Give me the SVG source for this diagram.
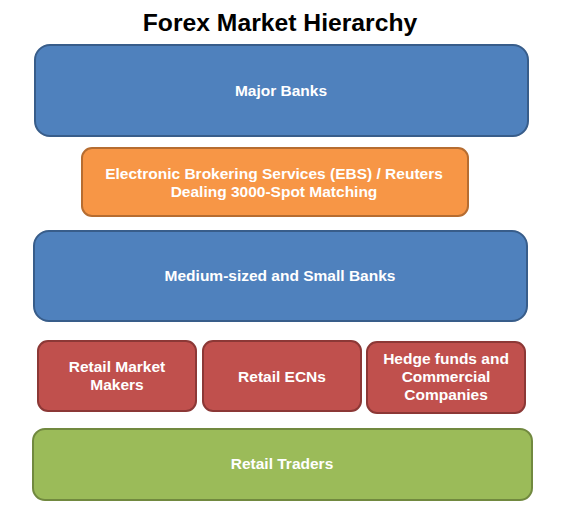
<svg xmlns="http://www.w3.org/2000/svg" width="568" height="514" viewBox="0 0 568 514">
<style>
.t{font-family:"Liberation Sans",Arial,sans-serif;font-weight:bold;font-size:15.5px;fill:#fff;text-anchor:middle}
.title{font-family:"Liberation Sans",Arial,sans-serif;font-weight:bold;font-size:24.7px;fill:#000;text-anchor:middle}
.blue{fill:#4F81BD;stroke:#385D8A;stroke-width:2}
.orange{fill:#F79646;stroke:#B66D31;stroke-width:2}
.red{fill:#C0504D;stroke:#8C3836;stroke-width:2}
.green{fill:#9BBB59;stroke:#71893F;stroke-width:2}
</style>
<rect width="568" height="514" fill="#fff"/>
<text class="title" x="280" y="31">Forex Market Hierarchy</text>
<g id="connectors"/>
<g id="major-banks">
<rect class="blue" x="35" y="45" width="493" height="91" rx="15"/>
<text class="t" x="281" y="96">Major Banks</text>
</g>
<g id="ebs">
<rect class="orange" x="82" y="148" width="386" height="68" rx="10"/>
<text class="t" x="274" y="179">Electronic Brokering Services (EBS) / Reuters</text>
<text class="t" x="274" y="197">Dealing 3000-Spot Matching</text>
</g>
<g id="medium-banks">
<rect class="blue" x="34" y="231" width="493" height="90" rx="15"/>
<text class="t" x="280" y="281">Medium-sized and Small Banks</text>
</g>
<g id="retail-market-makers">
<rect class="red" x="38" y="341" width="158" height="70" rx="10"/>
<text class="t" x="117" y="372">Retail Market</text>
<text class="t" x="117" y="390">Makers</text>
</g>
<g id="retail-ecns">
<rect class="red" x="203" y="341" width="158" height="70" rx="10"/>
<text class="t" x="282" y="382">Retail ECNs</text>
</g>
<g id="hedge-funds">
<rect class="red" x="367" y="342" width="158" height="71" rx="10"/>
<text class="t" x="446" y="364">Hedge funds and</text>
<text class="t" x="446" y="382">Commercial</text>
<text class="t" x="446" y="400">Companies</text>
</g>
<g id="retail-traders">
<rect class="green" x="33" y="429" width="499" height="71" rx="12"/>
<text class="t" x="282" y="469">Retail Traders</text>
</g>
</svg>
